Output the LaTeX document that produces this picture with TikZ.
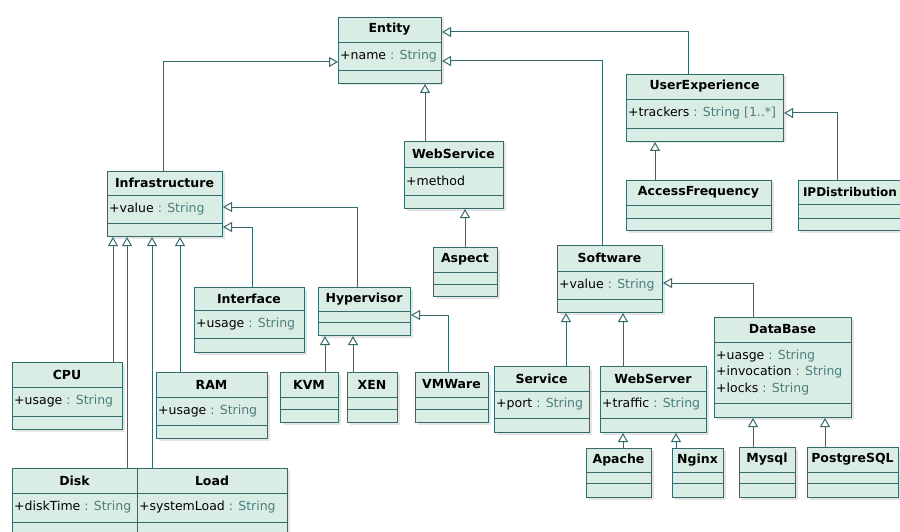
\documentclass[tikz,border=0pt]{standalone}
\usepackage{fontspec}
\setmainfont{DejaVu Sans}
\usetikzlibrary{arrows.meta,shadows}

\definecolor{umlline}{HTML}{356A6A}
\definecolor{umlfill}{HTML}{DAEDE5}
\definecolor{umltype}{HTML}{4A7E7C}

\newcommand{\attrtype}[1]{\textcolor{umltype}{#1}}

% class box: id, x1, y1, x2, y2, first rule, second rule, name, attributes
\newcommand{\umlclass}[9]{%
  \node[classbox, anchor=north west, minimum width={#4pt-#2pt}, minimum height={#5pt-#3pt}] (#1) at (#2,#3) {};
  \node[classtitle] at ({(#2+#4)/2},{(#3+#6)/2}) {#8};
  \draw[classrule] (#2,#6) -- (#4,#6) (#2,#7) -- (#4,#7);
  \node[classattr, anchor=west] at (#2,{(#6+#7)/2}) {#9};
}

\tikzset{
  classbox/.style={draw=umlline, fill=umlfill, line width=1pt, inner sep=0pt,
    drop shadow={shadow xshift=2pt, shadow yshift=-2pt, opacity=.2}},
  classrule/.style={draw=umlline, line width=.9pt},
  classtitle/.style={font=\bfseries\fontsize{12.5}{14}\selectfont, inner sep=0pt},
  classattr/.style={font=\fontsize{12.5}{16.5}\selectfont, align=left, inner sep=2pt},
  gen/.style={draw=umlline, line width=1pt, -{Triangle[length=9pt, width=10pt, fill=white]}},
}

\begin{document}
\begin{tikzpicture}[x=1pt, y=-1pt]
\clip (0,0) rectangle (900,532);
\fill[white] (0,0) rectangle (900,532);

\umlclass{entity}{338}{17}{441}{83}{42}{70}{Entity}{+name \attrtype{: String}}
\umlclass{userexp}{626}{74}{783}{141}{99}{128}{UserExperience}{+trackers \attrtype{: String [1..*]}}
\umlclass{access}{626}{180}{771}{230}{205}{218}{AccessFrequency}{}
\umlclass{ipdist}{798}{180}{902}{230}{204}{218}{\fontsize{12}{14}\selectfont IPDistribution}{}
\umlclass{webservice}{404}{141}{503}{208}{167}{195}{WebService}{+method}
\umlclass{aspect}{433}{247}{497}{296}{272}{284}{Aspect}{}
\umlclass{infra}{107}{171}{222}{236}{195}{223}{Infrastructure}{+value \attrtype{: String}}
\umlclass{software}{557}{245}{662}{312}{271}{299}{Software}{+value \attrtype{: String}}
\umlclass{interface}{194}{287}{304}{352}{310}{338}{Interface}{+usage \attrtype{: String}}
\umlclass{hyper}{318}{287}{410}{335}{311}{322}{Hypervisor}{}
\umlclass{kvm}{280}{372}{338}{422}{397}{409}{KVM}{}
\umlclass{xen}{347}{372}{397}{422}{397}{409}{XEN}{}
\umlclass{vmware}{415}{372}{488}{422}{397}{409}{VMWare}{}
\umlclass{cpu}{12}{362}{122}{429}{387}{416}{CPU}{+usage \attrtype{: String}}
\umlclass{ram}{156}{372}{267}{438}{397}{425}{RAM}{+usage \attrtype{: String}}
\umlclass{disk}{12}{468}{137}{545}{493}{522}{Disk}{+diskTime \attrtype{: String}}
\umlclass{load}{137}{468}{287}{545}{493}{522}{Load}{+systemLoad \attrtype{: String}}
\umlclass{service}{494}{366}{589}{432}{391}{418}{Service}{+port \attrtype{: String}}
\umlclass{webserver}{600}{366}{706}{432}{391}{418}{WebServer}{+traffic \attrtype{: String}}
\umlclass{database}{714}{317}{851}{417}{342}{403}{DataBase}{+uasge \attrtype{: String}\\+invocation \attrtype{: String}\\+locks \attrtype{: String}}
\umlclass{apache}{586}{448}{651}{497}{472}{483}{Apache}{}
\umlclass{nginx}{672}{448}{723}{497}{472}{483}{Nginx}{}
\umlclass{mysql}{739}{447}{795}{497}{472}{483}{Mysql}{}
\umlclass{postgre}{807}{447}{898}{497}{472}{483}{PostgreSQL}{}

\draw[gen] (infra.north -| 163,0) |- (entity.west |- 0,62);
\draw[gen] (webservice.north -| 425,0) -- (entity.south -| 425,0);
\draw[gen] (software.north -| 602,0) |- (entity.east |- 0,61);
\draw[gen] (userexp.north -| 688,0) |- (entity.east |- 0,32);
\draw[gen] (access.north -| 655,0) -- (userexp.south -| 655,0);
\draw[gen] (ipdist.north -| 837,0) |- (userexp.east |- 0,113);
\draw[gen] (aspect.north -| 465,0) -- (webservice.south -| 465,0);
\draw[gen] (interface.north -| 252,0) |- (infra.east |- 0,227);
\draw[gen] (hyper.north -| 357,0) |- (infra.east |- 0,207);
\draw[gen] (kvm.north -| 325,0) -- (hyper.south -| 325,0);
\draw[gen] (xen.north -| 353,0) -- (hyper.south -| 353,0);
\draw[gen] (vmware.north -| 448,0) |- (hyper.east |- 0,315);
\draw[gen] (cpu.north -| 113,0) -- (infra.south -| 113,0);
\draw[gen] (disk.north -| 127,0) -- (infra.south -| 127,0);
\draw[gen] (load.north -| 152,0) -- (infra.south -| 152,0);
\draw[gen] (ram.north -| 180,0) -- (infra.south -| 180,0);
\draw[gen] (service.north -| 566,0) -- (software.south -| 566,0);
\draw[gen] (webserver.north -| 623,0) -- (software.south -| 623,0);
\draw[gen] (database.north -| 753,0) |- (software.east |- 0,283);
\draw[gen] (apache.north -| 623,0) -- (webserver.south -| 623,0);
\draw[gen] (nginx.north -| 676,0) -- (webserver.south -| 676,0);
\draw[gen] (mysql.north -| 753,0) -- (database.south -| 753,0);
\draw[gen] (postgre.north -| 825,0) -- (database.south -| 825,0);
\end{tikzpicture}
\end{document}
